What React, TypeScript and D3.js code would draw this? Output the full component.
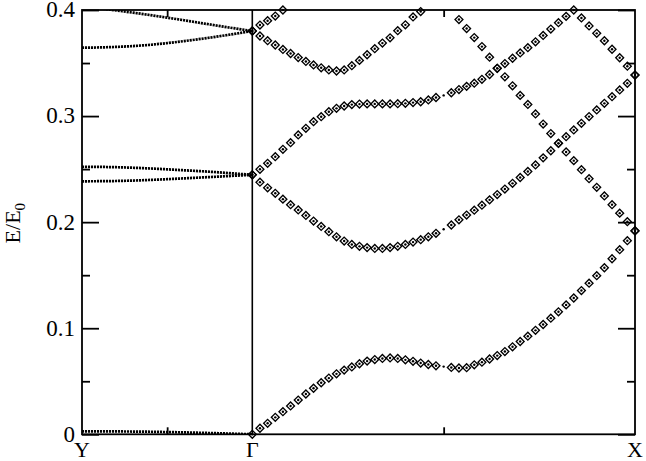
import React, { useRef, useEffect } from "react";
import * as d3 from "d3";

// k along the path: Y (left end), Gamma = 0, X = 1
const kY = -0.445;

// left panel (Y -> Gamma), dotted lines
const kLeft = [-0.445, -0.4005, -0.356, -0.3115, -0.267, -0.2225, -0.178, -0.1335, -0.089, -0.0445, 0];
const left1 = [0.0028, 0.0028, 0.0027, 0.0026, 0.0024, 0.0021, 0.0018, 0.0014, 0.001, 0.0005, 0];
const left2 = [0.2385, 0.2386, 0.2388, 0.2392, 0.2398, 0.2405, 0.2413, 0.2421, 0.2429, 0.2438, 0.2446];
const left3 = [0.2522, 0.2521, 0.2518, 0.2513, 0.2506, 0.2498, 0.2489, 0.248, 0.247, 0.2458, 0.2446];
const left4 = [0.3645, 0.3647, 0.3652, 0.366, 0.3672, 0.3688, 0.3707, 0.3728, 0.3751, 0.3776, 0.3802];
const left5 = [0.4035, 0.4017, 0.3996, 0.3975, 0.3952, 0.3928, 0.3903, 0.3877, 0.3851, 0.3826, 0.3802];

// right panel (Gamma -> X), dots + diamonds
const kRight = [
  0, 0.02, 0.04, 0.06, 0.08, 0.1, 0.12, 0.14, 0.16, 0.18,
  0.2, 0.22, 0.24, 0.26, 0.28, 0.3, 0.32, 0.34, 0.36, 0.38,
  0.4, 0.42, 0.44, 0.46, 0.48, 0.5, 0.52, 0.54, 0.56, 0.58,
  0.6, 0.62, 0.64, 0.66, 0.68, 0.7, 0.72, 0.74, 0.76, 0.78,
  0.8, 0.82, 0.84, 0.86, 0.88, 0.9, 0.92, 0.94, 0.96, 0.98, 1,
];
const bandA = [
  0, 0.0057, 0.0104, 0.016, 0.0213, 0.0267, 0.0323, 0.038, 0.0434, 0.0486,
  0.053, 0.057, 0.0605, 0.0635, 0.0665, 0.069, 0.0705, 0.0715, 0.072, 0.0715,
  0.0702, 0.0688, 0.0672, 0.0658, 0.0646, 0.0638, 0.063, 0.0625, 0.0628, 0.0655,
  0.068, 0.071, 0.0742, 0.078, 0.0825, 0.0875, 0.0925, 0.098, 0.1035, 0.1095,
  0.1155, 0.122, 0.1285, 0.1355, 0.1425, 0.1495, 0.157, 0.1655, 0.174, 0.1825, 0.1917,
];
const bandB = [
  0.2446, 0.2377, 0.2324, 0.2272, 0.2217, 0.2165, 0.2115, 0.2063, 0.201, 0.196,
  0.191, 0.1862, 0.1822, 0.179, 0.1772, 0.176, 0.1752, 0.1752, 0.176, 0.1772,
  0.179, 0.1812, 0.1835, 0.1862, 0.1895, 0.1933, 0.1973, 0.2022, 0.2067, 0.2113,
  0.216, 0.221, 0.226, 0.2312, 0.2366, 0.2421, 0.2478, 0.2539, 0.2606, 0.2673,
  0.2743, 0.2806, 0.2869, 0.2932, 0.2995, 0.3058, 0.312, 0.3183, 0.3246, 0.3309, 0.3387,
];
const bandC = [
  0.2446, 0.2498, 0.2555, 0.2617, 0.2687, 0.2749, 0.2822, 0.2885, 0.2947, 0.2994,
  0.3041, 0.3073, 0.3095, 0.3108, 0.3113, 0.3115, 0.3115, 0.3115, 0.3115, 0.3117,
  0.312, 0.3127, 0.3135, 0.3152, 0.3175, 0.3195, 0.322, 0.325, 0.328, 0.331,
  0.3347, 0.3392, 0.345, 0.3495, 0.3545, 0.3595, 0.3645, 0.37, 0.376, 0.382,
  0.388, 0.394, 0.4, 0.3925, 0.385, 0.378, 0.371, 0.363, 0.355, 0.347, 0.3387,
];
// starts at kRight[27]
const bandDStart = 27;
const bandD = [
  0.391, 0.3825, 0.374, 0.3655, 0.3555, 0.345, 0.337, 0.3285, 0.3195, 0.311,
  0.302, 0.2925, 0.2835, 0.2743, 0.2662, 0.258, 0.2495, 0.241, 0.2328, 0.2247,
  0.2165, 0.2085, 0.2004, 0.1919,
];
const bandE = [
  0.3802, 0.3755, 0.3711, 0.367, 0.3628, 0.359, 0.3552, 0.3515, 0.3482, 0.3455,
  0.3435, 0.3425, 0.3435, 0.3475, 0.3525, 0.3578, 0.3635, 0.3688, 0.3738, 0.3805,
  0.386, 0.3935, 0.3985,
];
const bandF = [0.3802, 0.3858, 0.3899, 0.3943, 0.4];
const noDiamondK = [0.5];

const yMajor = [0, 0.1, 0.2, 0.3, 0.4];
const yMinor = [0.05, 0.15, 0.25, 0.35];
const pointK = [kY, 0, 1];
const pointLabels = ["Y", "\u0393", "X"];
const xMinor = [kY / 2, 0.5];

const font = "'Liberation Serif', 'Times New Roman', serif";

function BandChart() {
  const svgRef = useRef<SVGSVGElement>(null);

  useEffect(() => {
    const svg = d3.select(svgRef.current);
    svg.selectAll("*").remove();

    const x = d3.scaleLinear().domain([kY, 1]).range([82, 635]);
    const y = d3.scaleLinear().domain([0, 0.4]).range([434.3, 10]);
    const [x0, x1] = x.range();
    const [y0, y1] = y.range();

    svg.append("clipPath").attr("id", "plotclip")
      .append("rect").attr("x", x0).attr("y", y1).attr("width", x1 - x0).attr("height", y0 - y1);

    // left panel dotted bands
    const line = d3.line<number>()
      .x((d, i) => x(kLeft[i]))
      .y(d => y(d))
      .curve(d3.curveMonotoneX);
    svg.append("g").attr("clip-path", "url(#plotclip)")
      .selectAll("path")
      .data([left1, left2, left3, left4, left5])
      .enter().append("path")
      .attr("d", d => line(d))
      .attr("fill", "none")
      .attr("stroke", "#000")
      .attr("stroke-width", 2.7)
      .attr("stroke-dasharray", "2.1 0.9");

    // right panel points
    const pts: { k: number; e: number }[] = [];
    const addBand = (vals: number[], start: number) =>
      vals.forEach((e, i) => pts.push({ k: kRight[start + i], e }));
    addBand(bandA, 0);
    addBand(bandB, 0);
    addBand(bandC, 0);
    addBand(bandD, bandDStart);
    addBand(bandE, 0);
    addBand(bandF, 0);

    const diamond = d3.symbol().type(d3.symbolSquare).size(31);
    svg.append("g")
      .selectAll("path")
      .data(pts.filter(p => !noDiamondK.includes(p.k)))
      .enter().append("path")
      .attr("d", diamond())
      .attr("transform", p => `translate(${x(p.k)},${y(p.e)}) rotate(45)`)
      .attr("fill", "none")
      .attr("stroke", "#000")
      .attr("stroke-width", 1.35);

    svg.append("g")
      .selectAll("circle")
      .data(pts)
      .enter().append("circle")
      .attr("cx", p => x(p.k))
      .attr("cy", p => y(p.e))
      .attr("r", 1.2)
      .attr("fill", "#000");

    // axes
    const styleAxis = (g: any) => {
      g.select(".domain").remove();
      g.selectAll("line").attr("stroke", "#000").attr("stroke-width", 1.8);
      g.attr("font-family", font).attr("font-size", 23).attr("color", "#000");
    };
    svg.append("g").attr("transform", `translate(${x0},0)`)
      .call(d3.axisLeft(y).tickValues(yMajor).tickSize(-17).tickPadding(7)
        .tickFormat(d => (d === 0 ? "0" : d3.format(".1f")(d as number))))
      .call(styleAxis)
      .call(g => g.selectAll("text").attr("dy", "0.3em"));
    svg.append("g").attr("transform", `translate(${x0},0)`)
      .call(d3.axisLeft(y).tickValues(yMinor).tickSize(-8).tickFormat(() => ""))
      .call(styleAxis);
    svg.append("g").attr("transform", `translate(${x1},0)`)
      .call(d3.axisRight(y).tickValues(yMajor).tickSize(-17).tickFormat(() => ""))
      .call(styleAxis);
    svg.append("g").attr("transform", `translate(${x1},0)`)
      .call(d3.axisRight(y).tickValues(yMinor).tickSize(-8).tickFormat(() => ""))
      .call(styleAxis);
    svg.append("g").attr("transform", `translate(0,${y0})`)
      .call(d3.axisBottom(x).tickValues(xMinor).tickSize(-7).tickFormat(() => ""))
      .call(styleAxis);
    svg.append("g").attr("transform", `translate(0,${y1})`)
      .call(d3.axisTop(x).tickValues(xMinor).tickSize(-7).tickFormat(() => ""))
      .call(styleAxis);

    // frame and Gamma line
    svg.append("rect")
      .attr("x", x0).attr("y", y1).attr("width", x1 - x0).attr("height", y0 - y1)
      .attr("fill", "none").attr("stroke", "#000").attr("stroke-width", 1.8);
    svg.append("line")
      .attr("x1", x(0)).attr("x2", x(0)).attr("y1", y0).attr("y2", y1)
      .attr("stroke", "#000").attr("stroke-width", 1.6);

    // high-symmetry point labels
    svg.append("g")
      .selectAll("text")
      .data(pointK)
      .enter().append("text")
      .attr("x", d => x(d))
      .attr("y", 457)
      .attr("text-anchor", "middle")
      .attr("font-family", font)
      .attr("font-size", 22)
      .text((d, i) => pointLabels[i]);

    // y title
    const title = svg.append("text")
      .attr("transform", `translate(20,${(y0 + y1) / 2 + 1}) rotate(-90)`)
      .attr("text-anchor", "middle")
      .attr("font-family", font)
      .attr("font-size", 22);
    title.append("tspan").text("E/E");
    title.append("tspan").attr("font-size", 15).attr("dy", 5).text("0");
  }, []);

  return <svg ref={svgRef} width={646} height={461} style={{ display: "block" }} />;
}

export default function App() {
  return (
    <div style={{ position: "absolute", left: 0, top: 0, background: "#fff" }}>
      <BandChart />
    </div>
  );
}
